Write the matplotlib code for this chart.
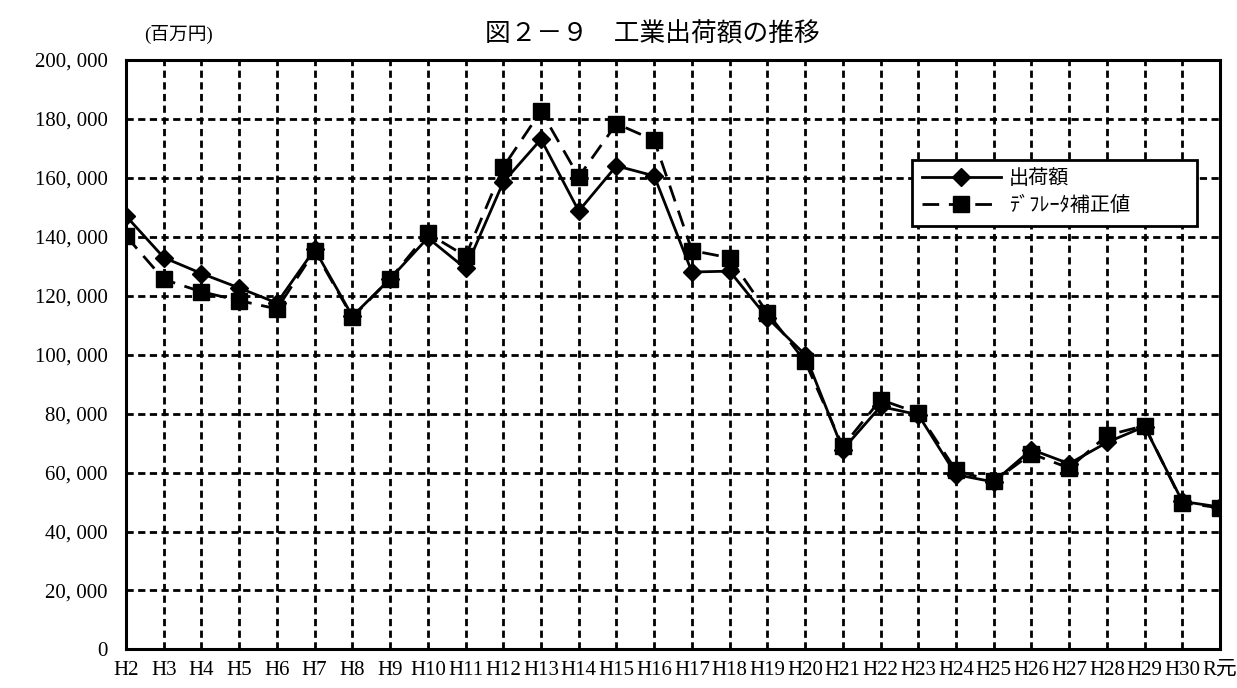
import matplotlib
matplotlib.use("Agg")
import matplotlib.pyplot as plt
from matplotlib.ticker import FuncFormatter, MultipleLocator

plt.rcParams['font.family'] = ['Liberation Serif', 'Noto Sans CJK JP', 'DejaVu Sans']

# Fiscal years (Heisei 2 .. Heisei 30, Reiwa gannen)
years = ["H2", "H3", "H4", "H5", "H6", "H7", "H8", "H9", "H10", "H11",
         "H12", "H13", "H14", "H15", "H16", "H17", "H18", "H19", "H20", "H21",
         "H22", "H23", "H24", "H25", "H26", "H27", "H28", "H29", "H30", "R元"]

# Shipment value (million yen)
shipments = [147000, 132900, 127500, 122600, 117500, 135700, 113000, 125700, 139600, 129200,
             158500, 173000, 148700, 164000, 160600, 128000, 128300, 112500, 100000, 67800,
             82400, 79600, 59300, 56800, 67800, 63000, 70200, 75600, 50200, 48300]

# Deflator-adjusted value (million yen)
deflated = [140200, 125500, 121300, 118300, 115500, 135100, 112700, 125700, 141100, 133400,
            163600, 182600, 160300, 178300, 172700, 135300, 132800, 114200, 97700, 68900,
            84700, 80200, 60700, 57000, 66400, 61500, 72600, 75900, 49800, 48000]

legend_labels = ["出荷額", "ﾃﾞﾌﾚｰﾀ補正値"]

fig = plt.figure(figsize=(12.37, 6.88), dpi=100)
ax = fig.add_axes([0.1019, 0.056, 0.8844, 0.8572])

x = list(range(len(years)))
ax.plot(x, shipments, color="black", lw=2.0, marker="D", markersize=9,
        label=legend_labels[0], zorder=3)
ax.plot(x, deflated, color="black", lw=2.0, linestyle=(0, (6, 3.5)), marker="s",
        markersize=11, label=legend_labels[1], zorder=3)

ax.set_xlim(0, len(years) - 1)
ax.set_ylim(0, 200000)
ax.yaxis.set_major_locator(MultipleLocator(20000))
ax.yaxis.set_major_formatter(FuncFormatter(lambda v, p: f"{int(v):,}".replace(",", ", ")))
ax.set_xticks(x)
ax.set_xticklabels(years)

ax.grid(True, color="black", linestyle=(0, (2.6, 1.6)), lw=2.0, zorder=1)
ax.tick_params(axis="both", length=0, labelsize=15, colors="black")
ax.tick_params(axis="y", pad=13)
ax.tick_params(axis="x", pad=8)
for s in ax.spines.values():
    s.set_linewidth(2.2)
    s.set_color("black")
    s.set_zorder(4)

leg = ax.legend(loc="upper left", bbox_to_anchor=(0.7185, 0.830, 0.2605, 0.0),
                mode="expand", borderaxespad=0,
                fancybox=False, framealpha=1, edgecolor="black", handlelength=3.9,
                fontsize=14.5, labelspacing=0.4, borderpad=0.5, handletextpad=0.4)
leg.get_frame().set_linewidth(2.0)

fig.text(0.527, 0.950, "図２－９　工業出荷額の推移", ha="center", va="center", fontsize=18.5)
fig.text(0.144, 0.950, "(百万円)", ha="center", va="center", fontsize=13.5)

fig.savefig("out.png", dpi=100)
